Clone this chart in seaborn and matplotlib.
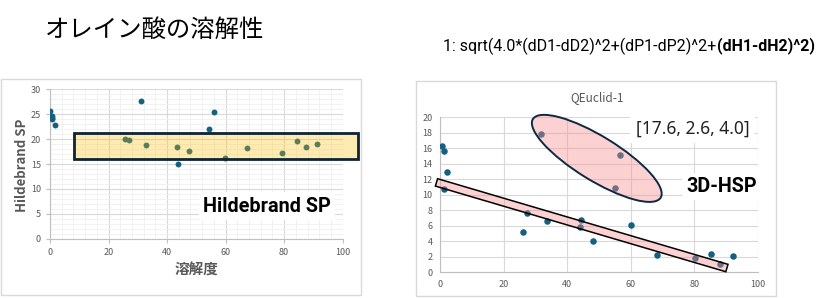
import matplotlib
matplotlib.use("Agg")
import numpy as np
import pandas as pd
import seaborn as sns
import matplotlib.pyplot as plt
from matplotlib.patches import Rectangle, Ellipse
from matplotlib.transforms import IdentityTransform
from matplotlib.ticker import MultipleLocator

# ---------------- data ----------------
title = "オレイン酸の溶解性"
formula_plain = "1: sqrt(4.0*(dD1-dD2)^2+(dP1-dP2)^2+"
formula_bold = "(dH1-dH2)^2)"
left_xlabel = "溶解度"
left_ylabel = "Hildebrand SP"
left_note = "Hildebrand SP"
right_title = "QEuclid-1"
right_note1 = "[17.6, 2.6, 4.0]"
right_note2 = "3D-HSP"

hild_x = [0, 0.8, 0.8, 0.8, 1.8, 31.2, 56.0, 54.4, 25.7, 27.1, 32.9, 43.5,
          43.8, 47.6, 59.7, 67.3, 79.4, 84.5, 87.6, 91.3]
hild_y = [25.6, 24.6, 24.3, 24.0, 22.8, 27.6, 25.4, 22.0, 20.0, 19.8, 18.8,
          18.4, 15.1, 17.7, 16.3, 18.2, 17.3, 19.6, 18.4, 19.0]

hsp_x = [0.5, 1.2, 2.2, 1.3, 31.7, 56.5, 55.1, 27.4, 26.2, 33.5, 44.4, 44.1,
         48.0, 60.2, 68.2, 80.1, 85.2, 88.2, 92.1]
hsp_y = [16.3, 15.6, 12.9, 10.8, 17.9, 15.1, 10.9, 7.7, 5.2, 6.6, 6.8, 5.8,
         4.1, 6.1, 2.2, 1.9, 2.4, 1.1, 2.1]

# ---------------- style ----------------
sns.set_theme(style="white")
plt.rcParams["font.family"] = ["Noto Sans CJK JP", "DejaVu Sans"]

W, H = 836, 298
fig = plt.figure(figsize=(W / 100, H / 100), dpi=100, facecolor="white")

def fx(px):
    return px / W

def fy(py):
    return 1 - py / H

DOT = "#156082"
GREY = "#595959"
BOLDFAM = ["Roboto", "DejaVu Sans"]

# panel frames
fig.add_artist(Rectangle((fx(0.5), fy(295.3)), fx(360.5), (295.3 - 79) / H,
                         transform=fig.transFigure, fill=False, ec="#d9d9d9", lw=1))
fig.add_artist(Rectangle((fx(416), fy(296.3)), fx(360), (296.3 - 80.7) / H,
                         transform=fig.transFigure, fill=False, ec="#d9d9d9", lw=1))

# ---------------- left chart ----------------
ax1 = fig.add_axes([fx(50), fy(238.7), fx(292.7), 149.4 / H])
df1 = pd.DataFrame({"x": hild_x, "y": hild_y})
sns.scatterplot(data=df1, x="x", y="y", ax=ax1, color=DOT, s=18,
                linewidth=0, zorder=3)
ax1.set_xlim(0, 100)
ax1.set_ylim(0, 30)
ax1.xaxis.set_major_locator(MultipleLocator(20))
ax1.xaxis.set_minor_locator(MultipleLocator(4))
ax1.yaxis.set_major_locator(MultipleLocator(5))
ax1.yaxis.set_minor_locator(MultipleLocator(1))
ax1.grid(which="major", color="#d9d9d9", lw=0.8)
ax1.grid(which="minor", color="#f0f0f0", lw=0.6)
ax1.set_axisbelow(True)
for s in ["top", "right"]:
    ax1.spines[s].set_visible(False)
for s in ["left", "bottom"]:
    ax1.spines[s].set_color("#bfbfbf")
    ax1.spines[s].set_linewidth(0.8)
ax1.tick_params(which="major", labelsize=6.5, labelcolor=GREY, length=3,
                color="#bfbfbf", width=0.8, pad=3.5, bottom=True, left=True)
ax1.tick_params(which="minor", length=0)
ax1.set_xlabel("")
ax1.set_ylabel("")

fig.text(fx(196.7), fy(270), left_xlabel, ha="center", va="center",
         fontsize=10.5, fontweight="bold", color=GREY)
fig.text(fx(22), fy(165), left_ylabel, ha="center", va="center", rotation=90,
         fontsize=9.5, fontweight="bold", color=GREY)

ax1.add_patch(Rectangle((8.2, 16.1), 97.1, 5.1, fc=(1, 0.75, 0, 0.3),
                        ec="#0d2433", lw=2, clip_on=False, zorder=4))

fig.text(fx(203), fy(206), left_note, ha="left", va="center", fontsize=14.3,
         fontweight="bold", color="black", family=BOLDFAM,
         bbox=dict(fc="white", ec="none", pad=3))

# ---------------- right chart ----------------
ax2 = fig.add_axes([fx(440.3), fy(272.3), fx(317.4), 155 / H])
df2 = pd.DataFrame({"x": hsp_x, "y": hsp_y})
sns.scatterplot(data=df2, x="x", y="y", ax=ax2, color=DOT, s=22,
                linewidth=0, zorder=3)
ax2.set_xlim(0, 100)
ax2.set_ylim(0, 20)
ax2.xaxis.set_major_locator(MultipleLocator(20))
ax2.yaxis.set_major_locator(MultipleLocator(2))
ax2.grid(which="major", color="#d9d9d9", lw=0.8)
ax2.set_axisbelow(True)
for s in ["top", "right"]:
    ax2.spines[s].set_visible(False)
for s in ["left", "bottom"]:
    ax2.spines[s].set_color("#bfbfbf")
    ax2.spines[s].set_linewidth(0.8)
ax2.tick_params(labelsize=6.5, labelcolor=GREY, length=0, pad=5.5)
ax2.set_xlabel("")
ax2.set_ylabel("")

fig.text(fx(597), fy(98), right_title, ha="center", va="center", fontsize=8.5,
         color=GREY)

# ellipse (pixel-sized, anchored at data position)
cx, cy = ax2.transData.transform((49.3, 14.7))
ell = Ellipse((cx, cy), width=150, height=44, angle=-31.6,
              transform=IdentityTransform(), fc=(0.96, 0.55, 0.55, 0.4),
              ec="#0e2841", lw=1.4, zorder=4)
fig.add_artist(ell)

# rotated band
p0 = ax2.transData.transform((-1.2, 11.6))
p1 = ax2.transData.transform((90.3, 0.55))
L = float(np.hypot(*(p1 - p0)))
ang = float(np.degrees(np.arctan2(p1[1] - p0[1], p1[0] - p0[0])))
mx, my = (p0 + p1) / 2
T = 7.7
band = Rectangle((mx - L / 2, my - T / 2), L, T, angle=ang,
                 rotation_point="center", transform=IdentityTransform(),
                 fc=(0.96, 0.55, 0.55, 0.4), ec="black", lw=1.1, zorder=4)
fig.add_artist(band)

fig.text(fx(636), fy(128.3), right_note1, ha="left", va="center",
         fontsize=12.5, color="#222222", family=["Noto Sans", "DejaVu Sans"],
         bbox=dict(fc="white", ec="none", pad=4))
fig.text(fx(686), fy(186.7), right_note2, ha="left", va="center",
         fontsize=14.2, fontweight="bold", color="black", family=BOLDFAM,
         bbox=dict(fc="white", ec="none", pad=3))

# ---------------- header texts ----------------
fig.text(fx(45), fy(30), title, ha="left", va="center", fontsize=17.6,
         color="black")

t1 = fig.text(fx(443), fy(46), formula_plain, ha="left", va="center",
              fontsize=11.5, color="black", family=["Roboto", "DejaVu Sans"])
fig.canvas.draw()
bb = t1.get_window_extent()
fig.text(bb.x1 / W + fx(1), fy(46), formula_bold, ha="left", va="center",
         fontsize=11.5, fontweight="bold", color="black",
         family=["Roboto", "DejaVu Sans"])

fig.savefig("out.png", dpi=100, facecolor="white")
